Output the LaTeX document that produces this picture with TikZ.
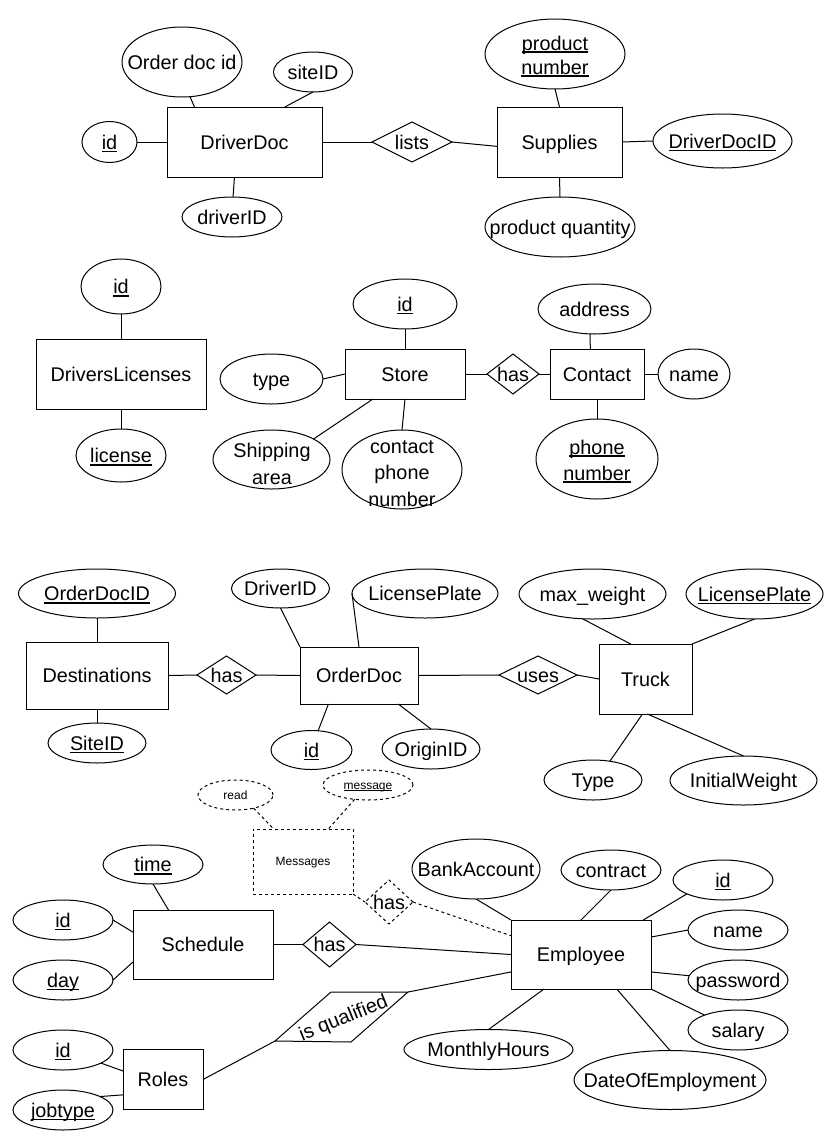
\documentclass[tikz,border=0pt]{standalone}
\usepackage{fontspec}
\setmainfont{Liberation Sans}
\usetikzlibrary{shapes.geometric,calc}
\newcommand\ul[1]{\setbox0\hbox{#1}\rlap{\rule[-0.14em]{\wd0}{0.075em}}\box0}
\begin{document}
\begin{tikzpicture}[x=1pt,y=-1pt,
 every node/.style={inner sep=0pt,outer sep=0pt},
 attr/.style={ellipse,draw,line width=1pt},
 ent/.style={rectangle,draw,line width=1pt},
 rel/.style={diamond,draw,line width=1pt},
 txt/.style={font=\fontsize{19.8}{23}\selectfont, text height=14.5pt, text depth=0pt},
 stxt/.style={font=\fontsize{12}{14}\selectfont, text height=8.8pt, text depth=0pt},
 conn/.style={line width=1pt},
 dsh/.style={dash pattern=on 3pt off 3pt}]
\fill[white] (0,0) rectangle (824,1138);
\useasboundingbox (0,0) rectangle (824,1138);

% ---------- top ----------
\node[ent,txt,minimum width=155pt,minimum height=70pt] (dd) at (244.5,142) {DriverDoc};
\node[attr,minimum width=120pt,minimum height=70pt] (odid) at (182,62) {};
\node[txt] (odidt) at (odid) {Order doc id};
\node[attr,minimum width=79pt,minimum height=40pt] (site) at (313,72) {};
\node[txt] (sitet) at (site) {siteID};
\node[attr,minimum width=55pt,minimum height=41pt] (id1) at (109.5,142) {};
\node[txt] (id1t) at (id1) {\ul{id}};
\node[attr,minimum width=100pt,minimum height=40pt] (drvid) at (232,217) {};
\node[txt] (drvidt) at (drvid) {driverID};
\node[rel,minimum width=80pt,minimum height=40pt] (lists) at (412,142) {};
\node[txt] (listst) at (lists) {lists};
\node[ent,txt,minimum width=125pt,minimum height=70pt] (sup) at (559.5,142) {Supplies};
\node[attr,minimum width=140pt,minimum height=70pt] (pnum) at (555,54) {};
\node[font=\fontsize{19.8}{24}\selectfont,align=center] (pnumt) at (555,56.3) {\ul{product}\\\ul{number}};
\node[attr,minimum width=139pt,minimum height=54pt] (ddid) at (722.5,141) {};
\node[txt] (ddidt) at (ddid) {\ul{DriverDocID}};
\node[attr,minimum width=150pt,minimum height=60pt] (pq) at (560,227) {};
\node[txt] (pqt) at (pq) {product quantity};

% ---------- middle ----------
\node[ent,txt,minimum width=170pt,minimum height=70pt] (dl) at (121,374) {DriversLicenses};
\node[attr,minimum width=80pt,minimum height=55pt] (id2) at (121,286.5) {};
\node[txt] (id2t) at (id2) {\ul{id}};
\node[attr,minimum width=90pt,minimum height=53pt] (lic) at (121,455.5) {};
\node[txt] (lict) at (lic) {\ul{license}};
\node[ent,txt,minimum width=120pt,minimum height=50pt] (st) at (405,374) {Store};
\node[attr,minimum width=104pt,minimum height=50pt] (id3) at (405,304) {};
\node[txt] (id3t) at (id3) {\ul{id}};
\node[attr,minimum width=103pt,minimum height=50pt] (type) at (271.5,379) {};
\node[txt] (typet) at (type) {type};
\node[attr,minimum width=117pt,minimum height=59pt] (ship) at (271.5,459.5) {};
\node[font=\fontsize{19.8}{27}\selectfont,align=center] (shipt) at (272,464.2) {Shipping\\area};
\node[attr,minimum width=120pt,minimum height=79pt] (cpn) at (402,469.5) {};
\node[font=\fontsize{19.8}{26.5}\selectfont,align=center] (cpnt) at (402,473.4) {contact\\phone\\number};
\node[rel,minimum width=52pt,minimum height=40pt] (has1) at (513,374) {};
\node[txt] (has1t) at (has1) {has};
\node[ent,txt,minimum width=94pt,minimum height=50pt] (ct) at (597,374) {Contact};
\node[attr,minimum width=113pt,minimum height=50pt] (addr) at (594.5,309) {};
\node[txt] (addrt) at (addr) {address};
\node[attr,minimum width=72pt,minimum height=50pt] (name1) at (694,374) {};
\node[txt] (name1t) at (name1) {name};
\node[attr,minimum width=122pt,minimum height=80pt] (phone) at (597,459) {};
\node[font=\fontsize{19.8}{26}\selectfont,align=center] (phonet) at (597,461.3) {\ul{phone}\\\ul{number}};

% ---------- lower middle ----------
\node[ent,txt,minimum width=142pt,minimum height=67pt] (dest) at (97,675.5) {Destinations};
\node[attr,minimum width=157pt,minimum height=49pt] (oddid) at (97,593.5) {};
\node[txt] (oddidt) at (oddid) {\ul{OrderDocID}};
\node[attr,minimum width=98pt,minimum height=40pt] (siteid2) at (97,743) {};
\node[txt] (siteid2t) at (siteid2) {\ul{SiteID}};
\node[rel,minimum width=59pt,minimum height=38pt] (has2) at (226.5,675) {};
\node[txt] (has2t) at (has2) {has};
\node[ent,txt,minimum width=118pt,minimum height=57pt] (od) at (359,675.5) {OrderDoc};
\node[attr,minimum width=98pt,minimum height=39pt] (drid) at (280.5,588.5) {};
\node[txt] (dridt) at (drid) {DriverID};
\node[attr,minimum width=146pt,minimum height=49pt] (lp1) at (425,593.5) {};
\node[txt] (lp1t) at (lp1) {LicensePlate};
\node[attr,minimum width=81pt,minimum height=39pt] (odid2) at (311.5,750) {};
\node[txt] (odid2t) at (odid2) {\ul{id}};
\node[attr,minimum width=98pt,minimum height=40pt] (orig) at (431,749) {};
\node[txt] (origt) at (orig) {OriginID};
\node[rel,minimum width=78pt,minimum height=38pt] (uses) at (538,675) {};
\node[txt] (usest) at (uses) {uses};
\node[ent,txt,minimum width=93pt,minimum height=70pt] (tr) at (645.5,679) {Truck};
\node[attr,minimum width=147pt,minimum height=50pt] (maxw) at (592.5,594) {};
\node[txt] (maxwt) at (maxw) {max\_weight};
\node[attr,minimum width=137pt,minimum height=50pt] (lp2) at (754.5,594) {};
\node[txt] (lp2t) at (lp2) {\ul{LicensePlate}};
\node[attr,minimum width=98pt,minimum height=40pt] (ttype) at (593,780) {};
\node[txt] (ttypet) at (ttype) {Type};
\node[attr,minimum width=147pt,minimum height=49pt] (initw) at (743.5,780.5) {};
\node[txt] (initwt) at (initw) {InitialWeight};

% ---------- bottom ----------
\node[attr,dsh,minimum width=75pt,minimum height=30pt] (read) at (235.5,795) {};
\node[stxt] (readt) at (read) {read};
\node[attr,dsh,minimum width=90pt,minimum height=30pt] (message) at (368,785) {};
\node[stxt] (messaget) at (message) {\ul{message}};
\node[ent,dsh,stxt,minimum width=100pt,minimum height=65pt] (msg) at (303,861.5) {Messages};
\node[rel,dsh,minimum width=48pt,minimum height=44pt] (has3) at (389,902) {};
\node[txt] (has3t) at (has3) {has};
\node[ent,txt,minimum width=140pt,minimum height=69pt] (sch) at (203,944.5) {Schedule};
\node[attr,minimum width=100pt,minimum height=39pt] (time) at (153,864.5) {};
\node[txt] (timet) at (time) {\ul{time}};
\node[attr,minimum width=100pt,minimum height=40pt] (sid) at (63,920) {};
\node[txt] (sidt) at (sid) {\ul{id}};
\node[attr,minimum width=100pt,minimum height=40pt] (day) at (63,980) {};
\node[txt] (dayt) at (day) {\ul{day}};
\node[rel,minimum width=53pt,minimum height=45pt] (has4) at (329.5,944.5) {};
\node[txt] (has4t) at (has4) {has};
\node[ent,txt,minimum width=80pt,minimum height=60pt] (rol) at (163,1079.5) {Roles};
\node[attr,minimum width=100pt,minimum height=40pt] (rid) at (63,1050) {};
\node[txt] (ridt) at (rid) {\ul{id}};
\node[attr,minimum width=100pt,minimum height=40pt] (job) at (63,1110) {};
\node[txt] (jobt) at (job) {\ul{jobtype}};
\coordinate (isqL) at (275,1041);
\coordinate (isqR) at (408,992);
\draw[conn] (isqL) -- (331,992) -- (isqR) -- (351,1042) -- cycle;
\node[txt,rotate=22] (isqt) at (343,1017) {is qualified};
\node[ent,txt,minimum width=140pt,minimum height=69pt] (emp) at (581,954.5) {Employee};
\node[attr,minimum width=128pt,minimum height=60pt] (bank) at (476,869) {};
\node[txt] (bankt) at (bank) {BankAccount};
\node[attr,minimum width=100pt,minimum height=40pt] (contract) at (611,870) {};
\node[txt] (contractt) at (contract) {contract};
\node[attr,minimum width=100pt,minimum height=40pt] (eid) at (723,880) {};
\node[txt] (eidt) at (eid) {\ul{id}};
\node[attr,minimum width=100pt,minimum height=40pt] (ename) at (738,930) {};
\node[txt] (enamet) at (ename) {name};
\node[attr,minimum width=100pt,minimum height=40pt] (pwd) at (738,980) {};
\node[txt] (pwdt) at (pwd) {password};
\node[attr,minimum width=100pt,minimum height=40pt] (sal) at (738,1030) {};
\node[txt] (salt) at (sal) {salary};
\node[attr,minimum width=169pt,minimum height=40pt] (mh) at (488.5,1049.5) {};
\node[txt] (mht) at (mh) {MonthlyHours};
\node[attr,minimum width=192pt,minimum height=59pt] (doe) at (670,1080) {};
\node[txt] (doet) at (doe) {DateOfEmployment};

% ---------- connectors ----------
\draw[conn] (odid.-77) -- (dd.145.8);
\draw[conn] (site.south) -- (dd.41.5);
\draw[conn] (id1.east) -- (dd.west);
\draw[conn] (dd.254.8) -- (drvid.87);
\draw[conn] (dd.east) -- (lists.west);
\draw[conn] (lists.east) -- (sup.184.1);
\draw[conn] (pnum.south) -- (sup.north);
\draw[conn] (sup.south) -- (pq.north);
\draw[conn] (sup.east) -- (ddid.west);

\draw[conn] (id2.south) -- (dl.north);
\draw[conn] (dl.south) -- (lic.north);
\draw[conn] (id3.south) -- (st.north);
\draw[conn] (type.east) -- (st.west);
\draw[conn] (st.218.9) -- (ship.26.8);
\draw[conn] (st.south) -- (cpn.north);
\draw[conn] (st.east) -- (has1.west);
\draw[conn] (has1.east) -- (ct.west);
\draw[conn] (ct.105.6) -- (addr.-100.2);
\draw[conn] (ct.east) -- (name1.west);
\draw[conn] (ct.south) -- (phone.north);

\draw[conn] (oddid.south) -- (dest.north);
\draw[conn] (dest.south) -- (siteid2.north);
\draw[conn] (dest.east) -- (has2.west);
\draw[conn] (has2.east) -- (od.west);
\draw[conn] (drid.south) -- (od.north west);
\draw[conn] (lp1.west) -- (od.north);
\draw[conn] (od.223.5) -- (odid2.71.1);
\draw[conn] (od.-36.9) -- (orig.north);
\draw[conn] (od.east) -- (uses.west);
\draw[conn] (uses.east) -- (tr.west);
\draw[conn] (maxw.-112.8) -- (tr.113.9);
\draw[conn] (lp2.south) -- (tr.north east);
\draw[conn] (tr.265.9) -- (ttype.48);
\draw[conn] (tr.-87.5) -- (initw.north);

\draw[conn,dsh] (read.-36) -- (msg.132.7);
\draw[conn,dsh] (message.227) -- (msg.52.4);
\draw[conn,dsh] (msg.south east) -- (has3.west);
\draw[conn,dsh] (has3.east) -- (emp.165.2);
\draw[conn] (time.south) -- (sch.135.4);
\draw[conn] (sid.east) -- (sch.170.7);
\draw[conn] (day.east) -- (sch.194);
\draw[conn] (sch.east) -- (has4.west);
\draw[conn] (has4.east) -- (emp.west);
\draw[conn] (isqR) -- (emp.194);
\draw[conn] (rol.east) -- (isqL);
\draw[conn] (rid.-19.9) -- (rol.168);
\draw[conn] (job.20.6) -- (rol.201.2);
\draw[conn] (bank.south) -- (emp.north west);
\draw[conn] (contract.south) -- (emp.north);
\draw[conn] (eid.201.8) -- (emp.29.5);
\draw[conn] (ename.west) -- (emp.14.8);
\draw[conn] (pwd.175.4) -- (emp.-14);
\draw[conn] (sal.156.8) -- (emp.south east);
\draw[conn] (mh.north) -- (emp.223.8);
\draw[conn] (doe.north) -- (emp.-44.6);
\end{tikzpicture}
\end{document}
